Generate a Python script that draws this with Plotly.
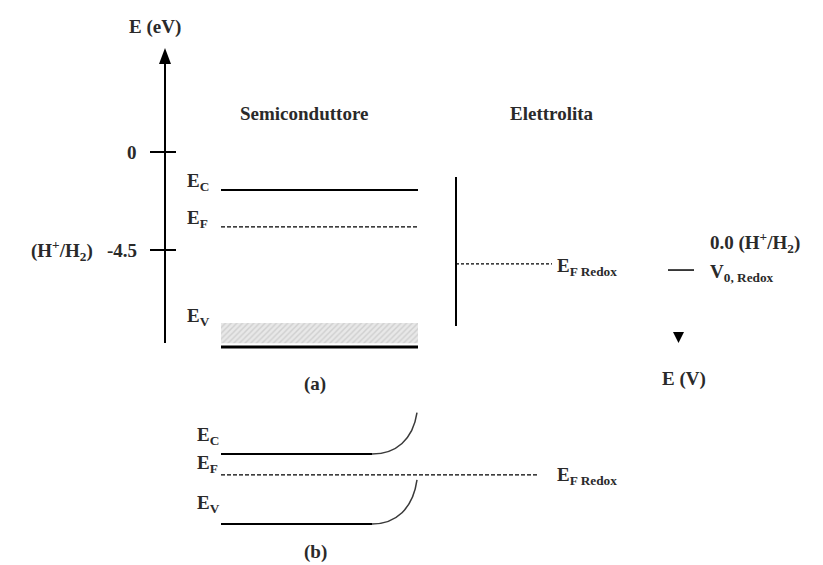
import plotly.graph_objects as go

# ---- data (energies in eV on the diagram's energy scale) ----
axis_ticks = [0.0, -4.5]
axis_tick_labels = ["0", "(H<sup>+</sup>/H<sub>2</sub>)\u00a0\u00a0\u00a0-4.5"]
level_names_a = ["E<sub>C</sub>", "E<sub>F</sub>", "E<sub>V</sub>"]
levels_a = [-1.75, -3.44, -8.95]          # Ec, EF, Ev (panel a)
ev_band_top_a = -7.85                      # top of filled valence band
redox_level_a = -5.14                      # E_F Redox
electrolyte_span = [-1.15, -7.99]
v0_level = -5.42
levels_b = [-13.87, -14.83, -17.08]        # Ec, EF, Ev (panel b, far from interface)
bend_top_b = [-11.97, -15.06]              # band-bending ends at the interface

# ---- scale: energy -> page pixel ----
PX_PER_EV = 98 / 4.5
Y0 = 152
def py(e):
    return Y0 - e * PX_PER_EV

FONT = dict(family="Liberation Serif", size=19, color="#2a2a2a", weight="bold")
fig = go.Figure()

def line(xs, ys, width=2, dash="solid", color="black"):
    fig.add_trace(go.Scatter(x=xs, y=ys, mode="lines", hoverinfo="skip",
                             line=dict(color=color, width=width, dash=dash)))

def text(x, y, s, xa="left", ya="middle", size=19):
    f = dict(FONT); f["size"] = size
    fig.add_annotation(x=x, y=y, text=s, showarrow=False, xanchor=xa, yanchor=ya, font=f)

# ---- energy axis (a) ----
line([165, 165], [343, 60], width=2)
fig.add_shape(type="path", path=f"M 159,64 L 171,64 L 165,48 Z", fillcolor="black",
              line=dict(width=0), xref="x", yref="y")
for e, lab in zip(axis_ticks, axis_tick_labels):
    line([150, 176], [py(e), py(e)], width=2)
    text(139, py(e), lab, xa="right")
text(155, 27, "E (eV)", xa="center")

# ---- semiconductor (a) ----
text(304, 113, "Semiconduttore", xa="center")
text(552, 113, "Elettrolita", xa="center")
fig.add_trace(go.Scatter(x=[221, 418, 418, 221, 221],
                         y=[py(ev_band_top_a), py(ev_band_top_a), py(-8.78), py(-8.78), py(ev_band_top_a)],
                         mode="lines", fill="toself", line=dict(width=0), hoverinfo="skip",
                         fillcolor="#e4e4e4",
                         fillpattern=dict(shape="/", fgcolor="#b5b5b5", bgcolor="#e8e8e8",
                                          size=4, solidity=0.35)))
line([221, 418], [py(levels_a[0])] * 2, width=2)
line([221, 418], [py(levels_a[1])] * 2, width=1.3, dash="4px,2px")
line([221, 418], [py(levels_a[2])] * 2, width=3)
label_y_a = [182, 219, 317]
for nm, yy in zip(level_names_a, label_y_a):
    text(185, yy, nm)

# ---- electrolyte (a) ----
line([456, 456], [py(electrolyte_span[0]), py(electrolyte_span[1])], width=2)
line([456, 552], [py(redox_level_a)] * 2, width=1.2, dash="3px,2px")
text(555, py(redox_level_a) + 3, "E<sub>F Redox</sub>")

# ---- V scale (right) ----
line([668, 694], [py(v0_level)] * 2, width=1.5)
text(708, 242, "0.0 (H<sup>+</sup>/H<sub>2</sub>)")
text(708, 273, "V<sub>0, Redox</sub>")
fig.add_shape(type="path", path="M 673,332 L 684,332 L 678.5,343 Z", fillcolor="black",
              line=dict(width=0), xref="x", yref="y")
text(684, 379, "E (V)", xa="center")
text(315, 384, "(a)", xa="center")

# ---- panel (b) ----
yc, yf, yv = [py(v) for v in levels_b]
line([221, 372], [yc, yc], width=2)
line([221, 372], [yv, yv], width=2)
line([221, 538], [yf, yf], width=1.3, dash="4px,2px")
for y_start, e_top in zip([yc, yv], bend_top_b):
    y_end = py(e_top)
    h = y_start - y_end
    fig.add_shape(type="path", xref="x", yref="y",
                  path=f"M 372,{y_start} C 396,{y_start} 413,{y_start - 0.35*h} 417,{y_end}",
                  line=dict(color="#3a3a3a", width=1.5))
text(195, 436, "E<sub>C</sub>")
text(195, 464, "E<sub>F</sub>")
text(195, 504, "E<sub>V</sub>")
text(555, 476, "E<sub>F Redox</sub>")
text(315, 552, "(b)", xa="center")

fig.update_layout(width=823, height=565, margin=dict(l=0, r=0, t=0, b=0),
                  paper_bgcolor="white", plot_bgcolor="white", showlegend=False,
                  xaxis=dict(range=[0, 823], visible=False, fixedrange=True),
                  yaxis=dict(range=[565, 0], visible=False, fixedrange=True))
fig.write_html("out.html")
